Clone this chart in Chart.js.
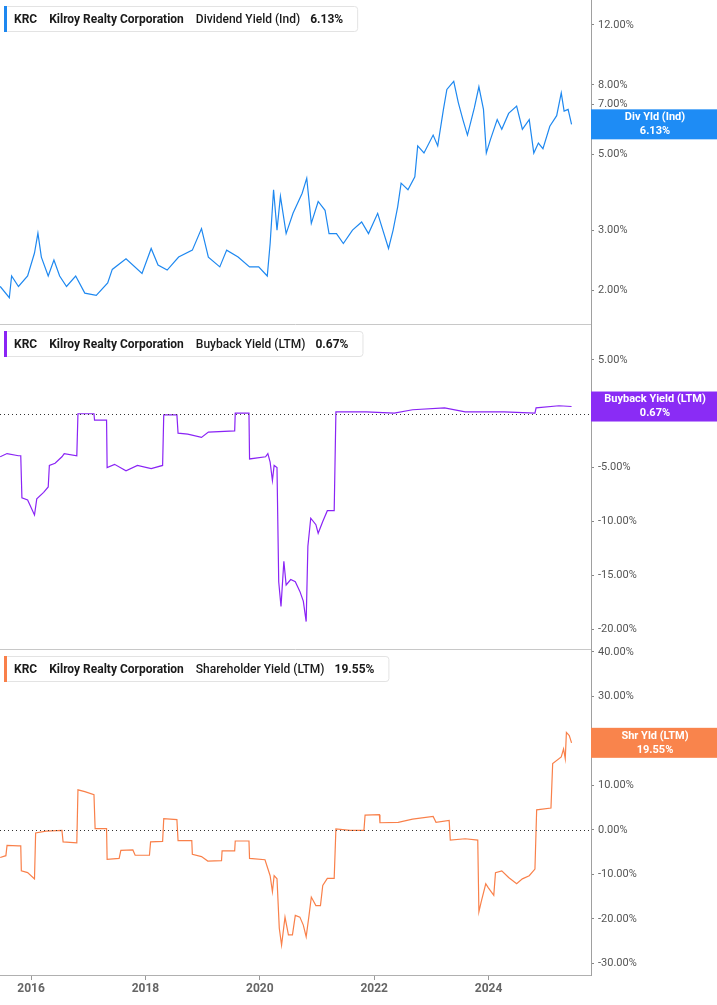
<!DOCTYPE html>
<html><head><meta charset="utf-8">
<script src="https://cdn.jsdelivr.net/npm/chart.js@4"></script>
<style>body{margin:0;background:#fff;width:717px;height:1005px;overflow:hidden;position:relative;font-family:Roboto}
.p{position:absolute;left:0}</style></head><body>
<div class="p" style="top:0"><canvas id="c1" width="717" height="325"></canvas></div>
<div class="p" style="top:325px"><canvas id="c2" width="717" height="325"></canvas></div>
<div class="p" style="top:640px"><canvas id="c3" width="717" height="365"></canvas></div>
<script>
const divYears=[2015.46,2015.62,2015.66,2015.78,2015.94,2016.06,2016.12,2016.18,2016.30,2016.40,2016.50,2016.62,2016.78,2016.94,2017.14,2017.34,2017.42,2017.66,2017.94,2018.10,2018.22,2018.38,2018.58,2018.82,2018.98,2019.10,2019.30,2019.42,2019.62,2019.82,2019.98,2020.13,2020.18,2020.24,2020.30,2020.36,2020.46,2020.58,2020.74,2020.82,2020.90,2021.02,2021.14,2021.21,2021.34,2021.46,2021.62,2021.78,2021.90,2022.06,2022.25,2022.33,2022.41,2022.47,2022.59,2022.71,2022.76,2022.87,2023.03,2023.11,2023.21,2023.27,2023.39,2023.47,2023.55,2023.63,2023.75,2023.83,2023.91,2023.96,2024.03,2024.15,2024.23,2024.35,2024.49,2024.59,2024.71,2024.79,2024.87,2024.95,2025.07,2025.19,2025.27,2025.32,2025.39,2025.45];
const divYield=[2.05,1.9,2.2,2.05,2.2,2.57,2.94,2.5,2.2,2.45,2.2,2.05,2.2,1.96,1.93,2.1,2.3,2.47,2.24,2.65,2.37,2.29,2.5,2.62,3.03,2.5,2.34,2.62,2.5,2.34,2.34,2.2,2.74,3.94,3.0,3.77,2.93,3.36,3.85,4.26,3.14,3.64,3.43,2.93,2.93,2.74,3.0,3.17,2.93,3.36,2.65,3.0,3.51,4.12,3.94,4.3,5.3,5.05,5.7,5.3,6.78,7.76,8.2,7.1,6.33,5.7,6.85,7.9,6.78,5.05,5.52,6.33,5.93,6.6,6.93,5.93,6.33,5.05,5.4,5.2,6.05,6.5,7.58,6.7,6.78,6.13];

const bbYears=[2015.46,2015.58,2015.78,2015.82,2015.84,2015.94,2016.06,2016.10,2016.22,2016.30,2016.32,2016.42,2016.54,2016.58,2016.80,2016.82,2017.10,2017.11,2017.32,2017.33,2017.46,2017.66,2017.86,2018.10,2018.30,2018.32,2018.55,2018.57,2018.74,2018.98,2019.10,2019.56,2019.57,2019.81,2019.82,2020.10,2020.14,2020.18,2020.22,2020.25,2020.30,2020.33,2020.37,2020.42,2020.46,2020.54,2020.62,2020.70,2020.76,2020.81,2020.84,2020.89,2020.98,2021.02,2021.10,2021.18,2021.30,2021.33,2021.86,2022.35,2022.67,2023.23,2023.59,2024.27,2024.81,2024.83,2025.23,2025.45];
const bbYield=[-4.0,-3.7,-3.9,-3.9,-7.8,-8.0,-9.4,-7.9,-7.3,-6.8,-4.8,-4.6,-4.0,-3.7,-3.9,0,0,-0.6,-0.6,-5.0,-4.7,-5.3,-4.8,-5.1,-4.8,-0.1,-0.1,-1.8,-1.9,-2.2,-1.7,-1.6,0.05,0.05,-4.2,-4.0,-3.7,-4.5,-6.2,-4.8,-5.0,-15.6,-17.9,-13.7,-15.9,-15.4,-15.6,-16.5,-17.4,-19.3,-12.3,-9.7,-10.3,-11.1,-10.0,-9.0,-9.0,0.18,0.18,0.06,0.37,0.55,0.18,0.18,0.06,0.55,0.74,0.67];

const shYears=[2015.46,2015.56,2015.58,2015.78,2015.82,2015.83,2015.94,2016.06,2016.08,2016.26,2016.54,2016.56,2016.80,2016.82,2016.94,2017.10,2017.12,2017.32,2017.33,2017.54,2017.57,2017.78,2017.82,2018.07,2018.09,2018.30,2018.32,2018.55,2018.57,2018.81,2018.82,2018.98,2019.09,2019.33,2019.34,2019.56,2019.57,2019.81,2019.82,2020.09,2020.18,2020.22,2020.25,2020.30,2020.34,2020.38,2020.44,2020.50,2020.57,2020.62,2020.70,2020.76,2020.81,2020.86,2020.90,2020.98,2021.06,2021.10,2021.18,2021.30,2021.33,2021.58,2021.82,2021.84,2022.09,2022.10,2022.42,2022.67,2023.03,2023.08,2023.31,2023.33,2023.59,2023.81,2023.83,2023.87,2023.95,2023.99,2024.09,2024.12,2024.23,2024.35,2024.49,2024.59,2024.71,2024.81,2024.84,2025.09,2025.12,2025.27,2025.31,2025.34,2025.36,2025.41,2025.45];
const shYield=[-6.2,-5.8,-3.5,-3.6,-3.6,-9.2,-9.6,-11.0,-0.7,-0.3,-0.1,-2.7,-2.9,9.0,8.6,7.9,0.3,0.3,-6.6,-6.4,-4.6,-4.5,-5.7,-5.7,-2.7,-2.6,2.5,2.3,-2.4,-2.4,-5.5,-6.0,-7.0,-6.9,-4.7,-4.7,-2.5,-2.5,-6.4,-6.7,-10.3,-13.9,-10.3,-11.0,-22.1,-25.9,-19.6,-23.6,-23.6,-19.2,-19.6,-21.4,-24.0,-19.2,-15.1,-17.0,-17.0,-12.5,-10.9,-10.9,0.2,-0.1,-0.1,3.3,3.4,1.6,1.7,2.4,3.0,1.7,2.1,-2.3,-2.0,-2.3,-18.4,-16.2,-12.1,-12.9,-14.7,-9.6,-9.2,-10.7,-12.1,-11.0,-10.3,-8.8,4.5,4.9,14.9,16.4,18.2,16.0,21.9,21.2,19.55];

const divTicks=[2,3,5,7,8,12], bbTicks=[-20,-15,-10,-5,0,5], shTicks=[-30,-20,-10,0,10,20,30,40], yearTicks=[2016,2018,2020,2022,2024];

const XMIN=2015.457, XMAX=2025.79;
function pct(v){return v.toFixed(2)+'%';}

function panelPlugin(cfg){
  return {id:'panel',afterDraw(ch){
    const ctx=ch.ctx, ca=ch.chartArea, ys=ch.scales.y;
    ctx.save();
    if(cfg.zero){
      const y0=Math.round(ys.getPixelForValue(0))+0.5;
      ctx.strokeStyle='#333';ctx.lineWidth=1;ctx.setLineDash([1,3]);
      ctx.beginPath();ctx.moveTo(0,y0);ctx.lineTo(ca.right,y0);ctx.stroke();ctx.setLineDash([]);
    }
    if(cfg.sep){
      ctx.strokeStyle='#c8c8c8';ctx.lineWidth=1;
      ctx.beginPath();ctx.moveTo(0,ca.bottom-0.5);ctx.lineTo(ca.right,ca.bottom-0.5);ctx.stroke();
    }
    const by=ys.getPixelForValue(cfg.last);
    ctx.fillStyle=cfg.badge;
    ctx.fillRect(ca.right,by-15,ch.width-ca.right,30);
    ctx.fillStyle='#fff';ctx.textAlign='center';ctx.textBaseline='middle';
    ctx.font='bold 11px Roboto';
    const cx=(ca.right+ch.width)/2+1;
    ctx.fillText(cfg.badgeLabel,cx,by-7);
    ctx.fillText(pct(cfg.last),cx,by+7);
    const top=ca.top+6, h=25, left=4;
    const parts=[['KRC','bold 12px Roboto',0],['Kilroy Realty Corporation','bold 12px Roboto',12],[cfg.name,'500 12px Roboto',12],[pct(cfg.last),'bold 12px Roboto',10]];
    let w=10;
    parts.forEach(p=>{ctx.font=p[1];w+=p[2]+ctx.measureText(p[0]).width;});
    w+=14;
    ctx.fillStyle='#fff';ctx.strokeStyle='#e3e3e3';ctx.lineWidth=1;
    ctx.beginPath();ctx.roundRect(left+0.5,top+0.5,w,h,3);ctx.fill();ctx.stroke();
    ctx.fillStyle=cfg.color;ctx.fillRect(left,top,3,h+1);
    ctx.textAlign='left';ctx.fillStyle='#1a1a1a';
    let x=left+10;
    parts.forEach(p=>{x+=p[2];ctx.font=p[1];ctx.fillText(p[0],x,top+h/2+1);x+=ctx.measureText(p[0]).width;});
    ctx.restore();
  }};
}

function make(id,cfg){
  const data=cfg.xs.map((x,i)=>({x:x,y:cfg.ys[i]}));
  return new Chart(document.getElementById(id),{
    type:'line',
    data:{datasets:[{data:data,borderColor:cfg.color,borderWidth:1.2,pointRadius:0,tension:0,fill:false}]},
    options:{responsive:false,animation:false,
      layout:{padding:{top:cfg.padTop||0,left:0,right:0,bottom:0}},
      plugins:{legend:{display:false},tooltip:{enabled:false}},
      scales:{
        x:{type:'linear',min:XMIN,max:XMAX,display:!!cfg.showX,
          afterFit(s){s.height=cfg.showX?30:0;s.paddingLeft=0;s.paddingRight=0;},
          afterBuildTicks(s){s.ticks=yearTicks.map(v=>({value:v}));},
          grid:{drawOnChartArea:false,tickLength:5,color:'#999'},
          border:{color:'#b0b0b0'},
          ticks:{color:'#666',font:{family:'Roboto',size:12,weight:'bold'},padding:2,maxRotation:0,callback:v=>String(v)}},
        y:{type:cfg.log?'logarithmic':'linear',position:'right',min:cfg.min,max:cfg.max,
          afterFit(s){s.width=126;s.paddingTop=0;s.paddingBottom=0;},
          afterBuildTicks(s){s.ticks=cfg.ticks.map(v=>({value:v}));},
          grid:{drawOnChartArea:false,tickLength:3,color:'#888'},
          border:{color:'#a0a0a0'},
          ticks:{color:'#555',font:{family:'Roboto',size:11},padding:4,callback:v=>pct(v)}}
      }},
    plugins:[panelPlugin(cfg)]
  });
}
make('c1',{xs:divYears,ys:divYield,color:'#1e88f0',badge:'#1e8cf5',badgeLabel:'Div Yld (Ind)',name:'Dividend Yield (Ind)',last:6.13,log:true,min:1.58,max:14.2,ticks:divTicks,sep:true});
make('c2',{xs:bbYears,ys:bbYield,color:'#8a24f5',badge:'#8a2cf5',badgeLabel:'Buyback Yield (LTM)',name:'Buyback Yield (LTM)',last:0.67,min:-21.94,max:8.24,ticks:bbTicks,zero:true,sep:true});
make('c3',{xs:shYears,ys:shYield,color:'#f9804a',badge:'#f9844c',badgeLabel:'Shr Yld (LTM)',name:'Shareholder Yield (LTM)',last:19.55,min:-32.6,max:40.4,ticks:shTicks,zero:true,showX:true,padTop:10});
</script></body></html>
